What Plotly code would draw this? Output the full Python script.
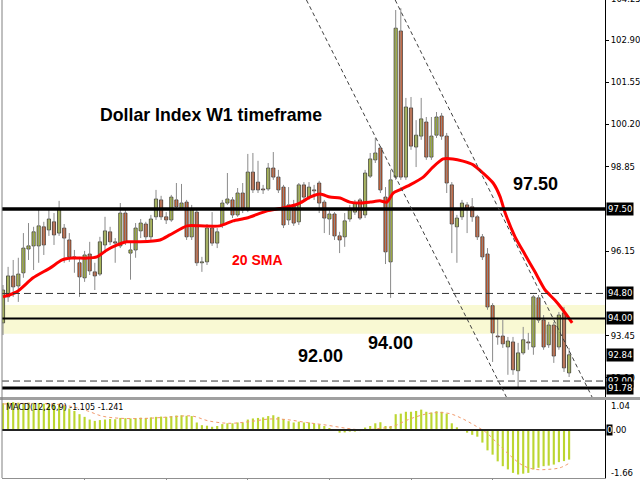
import plotly.graph_objects as go

# ---------------- data (weekly candles) ----------------
OPEN = [93.86, 94.69, 95.36, 95.04, 95.46, 96.22, 96.32, 96.32, 96.93, 96.83,
        97.09, 96.73, 96.89, 96.51, 95.94, 95.78, 95.30, 96.06, 95.49, 95.42,
        96.35, 96.77, 96.45, 96.32, 97.37, 96.09, 96.19, 96.80, 97.02, 96.61,
        97.25, 97.79, 97.25, 97.15, 97.79, 97.53, 97.72, 96.61, 97.40, 95.78,
        95.81, 96.89, 96.41, 96.99, 97.69, 97.79, 97.31, 98.01, 97.47, 98.68,
        98.36, 98.14, 98.14, 98.81, 98.52, 98.20, 97.15, 97.63, 97.09, 98.27,
        97.88, 98.11, 98.33, 97.72, 97.18, 97.34, 96.64, 96.61, 97.18, 97.40,
        97.79, 97.31, 98.55, 99.07, 99.45, 97.88, 95.81, 98.52, 103.19, 98.52,
        100.73, 99.48, 99.83, 100.28, 99.16, 99.86, 100.47, 99.83, 98.27, 96.93,
        97.25, 97.63, 97.57, 97.25, 96.61, 96.06, 94.41, 93.44, 93.44, 93.09,
        93.25, 92.33, 92.90, 93.25, 93.09, 94.66, 93.95, 93.16, 93.79, 93.09,
        94.18, 92.26]
HIGH = [95.07, 95.65, 95.87, 95.94, 96.73, 97.05, 96.93, 97.47, 97.09, 97.50,
        97.37, 97.76, 97.02, 96.73, 96.19, 95.97, 96.16, 96.45, 95.78, 96.61,
        97.25, 96.93, 96.57, 97.69, 97.53, 96.45, 97.05, 97.18, 97.09, 97.31,
        98.11, 97.92, 97.40, 97.95, 98.33, 98.30, 97.79, 97.63, 97.53, 95.97,
        97.02, 97.40, 96.89, 97.79, 98.65, 97.88, 98.17, 98.33, 99.26, 99.29,
        99.04, 98.27, 98.97, 99.32, 98.75, 98.27, 98.20, 97.79, 98.33, 98.36,
        98.36, 98.27, 98.40, 97.79, 97.53, 97.40, 96.77, 97.37, 97.63, 97.79,
        97.85, 98.75, 99.29, 99.77, 99.51, 98.20, 98.75, 103.86, 103.92, 101.05,
        101.08, 100.34, 101.05, 100.44, 100.44, 100.60, 100.57, 99.93, 98.36, 97.31,
        97.79, 97.72, 97.85, 97.31, 96.70, 96.25, 94.49, 94.02, 93.95, 93.41,
        93.41, 93.22, 93.73, 93.54, 94.75, 94.75, 94.11, 93.89, 93.89, 94.21,
        94.37, 93.06]
LOW = [93.47, 94.53, 94.69, 94.53, 95.30, 95.87, 95.55, 95.78, 96.03, 96.64,
       96.35, 96.64, 95.78, 95.81, 95.46, 94.69, 95.17, 95.39, 94.91, 95.36,
       96.09, 96.35, 95.78, 96.25, 96.35, 95.24, 95.94, 96.57, 96.51, 96.51,
       97.15, 97.15, 97.02, 97.09, 97.47, 97.47, 96.51, 96.51, 95.68, 95.49,
       95.71, 96.32, 96.25, 96.89, 97.63, 97.21, 97.25, 97.37, 97.40, 98.01,
       98.01, 97.98, 98.08, 98.43, 98.01, 96.89, 96.99, 96.96, 96.99, 97.79,
       97.79, 97.79, 97.37, 96.73, 96.67, 96.51, 96.09, 96.29, 97.09, 97.31,
       97.15, 97.21, 98.49, 98.97, 98.01, 95.74, 94.66, 98.43, 98.43, 98.43,
       99.39, 98.84, 99.71, 99.07, 99.07, 99.77, 99.71, 98.01, 96.09, 95.78,
       97.15, 96.73, 97.09, 96.51, 95.87, 94.28, 92.61, 93.16, 93.06, 92.20,
       92.20, 91.81, 92.84, 93.00, 92.84, 93.86, 93.00, 93.06, 92.58, 93.00,
       92.29, 92.13]
CLOSE = [94.91, 95.36, 95.01, 95.42, 96.25, 96.32, 96.77, 96.96, 96.35, 97.18,
         96.67, 97.50, 96.57, 95.97, 95.97, 95.33, 96.03, 95.52, 95.36, 96.45,
         96.80, 96.45, 96.41, 97.37, 96.45, 96.19, 96.89, 97.05, 96.61, 97.18,
         97.82, 97.25, 97.15, 97.88, 97.57, 97.69, 96.61, 97.47, 95.78, 95.81,
         96.89, 96.41, 96.77, 97.69, 97.82, 97.31, 98.01, 97.47, 98.68, 98.11,
         98.11, 98.11, 98.81, 98.52, 98.11, 96.99, 97.63, 97.05, 98.27, 97.88,
         98.20, 98.08, 97.69, 97.21, 97.34, 96.64, 96.51, 97.12, 97.47, 97.69,
         97.21, 98.65, 99.10, 99.29, 98.11, 96.13, 98.43, 103.28, 98.52, 100.76,
         99.51, 99.86, 100.38, 99.16, 99.83, 100.44, 99.83, 98.33, 97.02, 97.21,
         97.69, 97.53, 97.25, 96.61, 95.97, 94.37, 93.54, 93.41, 93.19, 93.28,
         92.36, 92.90, 93.32, 93.22, 94.69, 93.95, 93.09, 93.79, 92.80, 94.11,
         92.42, 92.84]

# 20 SMA (bar position, value)
SMA_X = [0, 2.7, 5.9, 9.2, 11.6, 13.5, 16.5, 18.4, 20.4, 22.4, 24.3, 26.9, 30.8,
         32.7, 36.1, 38.6, 42.5, 45.1, 47.8, 51.8, 54.9, 58.2, 60.2, 62.2, 64.1,
         66.1, 68.0, 70.0, 72.0, 73.9, 75.3, 76.5, 77.8, 79.8, 82.4, 84.3, 86.3,
         88.2, 90.2, 92.2, 94.1, 96.1, 97.5, 98.4, 100.4, 102.4, 104.3, 106.3,
         108.2, 109.8, 111.6]
SMA_Y = [94.69, 94.85, 95.30, 95.61, 95.87, 95.93, 95.93, 95.97, 96.19, 96.35,
         96.45, 96.45, 96.51, 96.67, 96.96, 96.96, 96.96, 97.12, 97.21, 97.44,
         97.53, 97.69, 97.88, 97.98, 97.88, 97.85, 97.72, 97.69, 97.72, 97.76,
         97.72, 98.01, 98.11, 98.27, 98.52, 98.84, 99.10, 99.10, 99.03, 98.91,
         98.65, 98.33, 97.88, 97.40, 96.61, 96.03, 95.49, 94.91, 94.59, 94.27,
         93.86]

# MACD(12,26,9): main (histogram) and signal (dotted)
MACD_MAIN = [1.00, 1.03, 1.04, 1.02, 1.01, 1.02, 1.01, 1.00, 0.98, 0.98,
             0.97, 0.98, 0.92, 0.80, 0.71, 0.59, 0.49, 0.39, 0.34, 0.37,
             0.39, 0.41, 0.40, 0.45, 0.44, 0.43, 0.44, 0.46, 0.45, 0.47,
             0.49, 0.50, 0.49, 0.52, 0.54, 0.55, 0.53, 0.52, 0.28, 0.18,
             0.16, 0.12, 0.15, 0.22, 0.25, 0.25, 0.28, 0.28, 0.39, 0.43,
             0.45, 0.47, 0.52, 0.55, 0.49, 0.41, 0.33, 0.28, 0.31, 0.28,
             0.28, 0.25, 0.21, 0.15, 0.04, 0.00, -0.10, -0.09, -0.06, -0.06,
             -0.04, 0.09, 0.15, 0.25, 0.29, 0.15, 0.15, 0.59, 0.61, 0.68,
             0.68, 0.71, 0.76, 0.68, 0.65, 0.70, 0.68, 0.61, 0.25, 0.10,
             0.00, -0.10, -0.18, -0.25, -0.47, -0.76, -0.92, -1.17, -1.35, -1.47,
             -1.60, -1.66, -1.63, -1.60, -1.47, -1.41, -1.35, -1.33, -1.29, -1.20,
             -1.16, -1.105]
SIGNAL_X = [0, 6, 11, 13.8, 16.6, 19.4, 22.7, 27.5, 33.1, 37.1, 40.3, 44.3, 48.3,
            52.3, 55.5, 59.5, 63.5, 67.5, 70.7, 73.9, 76.3, 79.5, 82.8, 85.2,
            87.6, 90, 92.4, 94.8, 97.2, 99.6, 102, 104.4, 106.8, 109.2, 111]
SIGNAL_Y = [0.97, 0.99, 0.95, 0.86, 0.71, 0.52, 0.44, 0.43, 0.49, 0.52, 0.34,
            0.25, 0.31, 0.41, 0.39, 0.28, 0.18, 0.06, 0.00, 0.06, 0.12, 0.39,
            0.59, 0.65, 0.61, 0.43, 0.18, -0.10, -0.55, -0.98, -1.33, -1.47,
            -1.47, -1.41, -1.241]

# price scale labels
SCALE_TICKS = [92.10, 93.45, 96.15, 98.85, 100.20, 101.55, 102.90]
BOXED_LEVELS = [97.50, 94.80, 94.00, 92.84, 92.00, 91.78]
MACD_LABELS = [1.04, -1.66]
ZONE = [93.51, 94.43]
# drawn trend lines: (bar, price) end points
TREND_LINES = [((59.5, 104.18), (98.7, 91.49)),
               ((76.9, 104.18), (115.5, 91.49))]

BULL = '#c0d63c'
BEAR = '#e9622b'

n = len(OPEN)
idx = list(range(n))

W, H = 640, 480
L_M, R_M = 2, 35


def px_x(X):
    return (X - L_M) / (W - L_M - R_M)


def px_y(Y):
    return 1 - Y / H


fig = go.Figure()

# wicks
wx, wy = [], []
for i in idx:
    wx += [i, i, None]
    wy += [LOW[i], HIGH[i], None]
fig.add_trace(go.Scatter(x=wx, y=wy, mode='lines', line=dict(color='#8a8a8a', width=1),
                         hoverinfo='skip', yaxis='y'))
# bodies
base = [min(o, c) for o, c in zip(OPEN, CLOSE)]
hgt = [max(abs(c - o), 0.02) for o, c in zip(OPEN, CLOSE)]
cols = [BULL if c >= o else BEAR for o, c in zip(OPEN, CLOSE)]
fig.add_trace(go.Bar(x=idx, y=hgt, base=base, width=0.62,
                     marker=dict(color=cols, line=dict(color='#333333', width=0.8)),
                     hoverinfo='skip', yaxis='y'))
# SMA
fig.add_trace(go.Scatter(x=SMA_X, y=SMA_Y, mode='lines',
                         line=dict(color='#ff0000', width=3, shape='spline', smoothing=0.6),
                         hoverinfo='skip', yaxis='y'))
# MACD
fig.add_trace(go.Bar(x=idx, y=MACD_MAIN, width=0.42, marker=dict(color='#bcd631', line=dict(width=0)),
                     hoverinfo='skip', yaxis='y2'))
fig.add_trace(go.Scatter(x=SIGNAL_X, y=SIGNAL_Y, mode='lines',
                         line=dict(color='#f29a6c', width=1, dash='dot', shape='spline'),
                         hoverinfo='skip', yaxis='y2'))

shapes = []
# support zone
shapes.append(dict(type='rect', xref='paper', x0=0, x1=1, yref='y', y0=ZONE[0], y1=ZONE[1],
                   fillcolor='#f9f9d3', line=dict(width=0), layer='below'))
# horizontal levels
level_style = {97.50: dict(color='black', width=3.5),
               94.80: dict(color='#333333', width=1, dash='7px,4px'),
               94.00: dict(color='black', width=2),
               92.00: dict(color='#333333', width=1, dash='7px,4px'),
               91.78: dict(color='black', width=3)}
for lv, st in level_style.items():
    shapes.append(dict(type='line', xref='paper', x0=0, x1=1, yref='y', y0=lv, y1=lv, line=st))
# trend lines
for (x0, y0), (x1, y1) in TREND_LINES:
    shapes.append(dict(type='line', xref='x', yref='y', x0=x0, y0=y0, x1=x1, y1=y1,
                       line=dict(color='#404040', width=1, dash='4px,3px')))
# MACD zero line
shapes.append(dict(type='line', xref='paper', x0=0, x1=1, yref='y2', y0=0, y1=0,
                   line=dict(color='#222222', width=2)))
# panel separator and left border
shapes.append(dict(type='line', xref='paper', x0=px_x(0), x1=px_x(640), yref='paper',
                   y0=px_y(398.5), y1=px_y(398.5), line=dict(color='#a0a0a0', width=3)))
shapes.append(dict(type='line', xref='paper', x0=px_x(2), x1=px_x(2), yref='paper',
                   y0=px_y(0), y1=px_y(478), line=dict(color='#808080', width=1)))

ann = []
lab_font = dict(family='DejaVu Sans', size=8.5, color='black')


def note(text, X, Y, font, xanchor='center', **kw):
    d = dict(xref='paper', x=px_x(X), xanchor=xanchor, yref='paper', y=px_y(Y), yanchor='middle',
             text=text, showarrow=False, font=font)
    d.update(kw)
    return d


for lv in BOXED_LEVELS:
    ann.append(dict(xref='paper', x=px_x(606), xanchor='left', yref='y', y=lv, yanchor='middle',
                    text=f'{lv:.2f}', showarrow=False, bgcolor='black', borderpad=1,
                    font=dict(family='DejaVu Sans', size=8.5, color='white')))
ann.append(note('104.25', 609, -1, lab_font, xanchor='left'))
# MACD scale labels
ann.append(note(f'{MACD_LABELS[0]:.2f}', 609, 406, lab_font, xanchor='left'))
ann.append(note(f'{MACD_LABELS[1]:.2f}', 609, 473, lab_font, xanchor='left'))
ann.append(dict(xref='paper', x=px_x(606), xanchor='left', yref='y2', y=0, yanchor='middle',
                text='0', showarrow=False, bgcolor='black', borderpad=0,
                font=dict(family='DejaVu Sans', size=8.5, color='white')))
ann.append(dict(xref='paper', x=px_x(611.5), xanchor='left', yref='y2', y=0, yanchor='middle',
                text='.00', showarrow=False, font=lab_font))
ann.append(note(f'MACD(12,26,9) {MACD_MAIN[-1]:.3f} {SIGNAL_Y[-1]:.3f}', 4, 407,
                dict(family='DejaVu Sans', size=8, color='black'), xanchor='left'))
# chart texts
big = dict(family='Liberation Sans', color='black')
ann.append(note('<b>Dollar Index W1 timeframe</b>', 211.5, 115, dict(size=17.7, **big)))
ann.append(note('<b>20 SMA</b>', 257.5, 260, dict(family='Liberation Sans', size=14, color='#ff0000')))
ann.append(note('<b>97.50</b>', 535, 184, dict(size=18, **big)))
ann.append(note('<b>94.00</b>', 390, 343, dict(size=18, **big)))
ann.append(note('<b>92.00</b>', 320, 356, dict(size=18, **big)))

fig.update_layout(
    width=W, height=H, margin=dict(l=L_M, r=R_M, t=0, b=0),
    paper_bgcolor='white', plot_bgcolor='white', showlegend=False, barmode='overlay',
    xaxis=dict(range=[-0.196, 118.04], domain=[0, 1], anchor='y2', showgrid=False, zeroline=False,
               showline=True, linecolor='#909090', ticks='outside', ticklen=3, tickcolor='#909090',
               tickvals=[16, 32, 48, 64, 80, 96], showticklabels=False, fixedrange=True),
    yaxis=dict(domain=[1 - 397 / H, 1], range=[91.49, 104.18], side='right', anchor='x',
               showgrid=False, zeroline=False, showline=True, linecolor='black', linewidth=1,
               ticks='outside', ticklen=3, tickcolor='black', tickvals=SCALE_TICKS,
               ticktext=[f'{v:.2f}' for v in SCALE_TICKS], tickfont=lab_font),
    yaxis2=dict(domain=[2 / H, 80 / H], range=[-1.791, 1.119], side='right', anchor='x',
                showgrid=False, zeroline=False, showline=True, linecolor='black', linewidth=1,
                showticklabels=False, ticks=''),
    shapes=shapes, annotations=ann,
)

# page body has a default 8px margin; remove it so the figure sits at the window origin
fig.write_html('out.html', config={'displayModeBar': False},
               post_script="document.body.style.margin='0px';")
